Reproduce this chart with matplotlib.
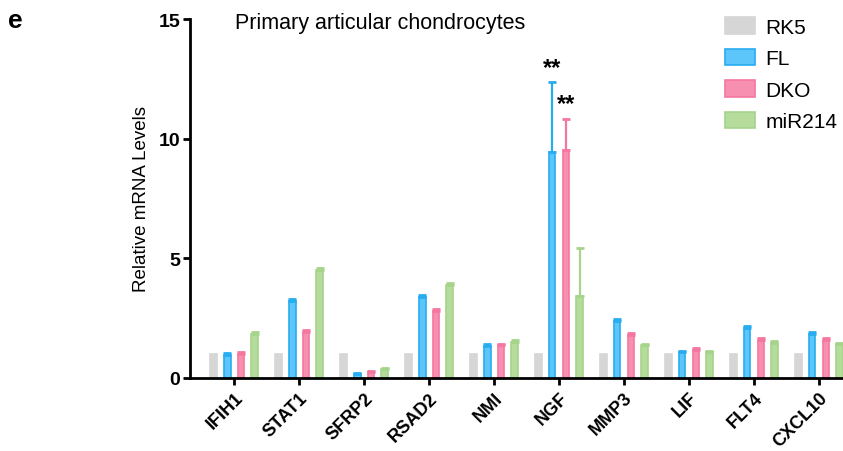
import numpy as np
import matplotlib.pyplot as plt
import matplotlib.transforms as mtransforms
from matplotlib.patches import Patch

plt.rcParams['font.family'] = ['Liberation Sans', 'DejaVu Sans']

genes = ['IFIH1', 'STAT1', 'SFRP2', 'RSAD2', 'NMI', 'NGF', 'MMP3', 'LIF', 'FLT4', 'CXCL10']
groups = ['RK5', 'FL', 'DKO', 'miR214']

rk5 = [1, 1, 1, 1, 1, 1, 1, 1, 1, 1]
fl = [0.97, 3.2, 0.15, 3.4, 1.35, 9.43, 2.38, 1.07, 2.08, 1.84]
fl_err = [0.08, 0.1, 0.05, 0.08, 0.06, 2.93, 0.07, 0.06, 0.08, 0.08]
dko = [1.0, 1.92, 0.25, 2.8, 1.38, 9.54, 1.8, 1.18, 1.6, 1.6]
dko_err = [0.08, 0.08, 0.06, 0.08, 0.06, 1.28, 0.07, 0.06, 0.07, 0.07]
mir214 = [1.85, 4.5, 0.38, 3.88, 1.52, 3.44, 1.38, 1.08, 1.47, 1.4]
mir214_err = [0.08, 0.1, 0.05, 0.08, 0.07, 1.98, 0.06, 0.06, 0.07, 0.06]

fills = ['#d6d6d6', '#5cc6fa', '#f78fb0', '#b6dc9c']
edges = ['#d6d6d6', '#27adf0', '#f5779f', '#a6d48a']

fig = plt.figure(figsize=(8.43, 4.52), dpi=100)
ax = fig.add_axes([190 / 843, 1 - 379 / 452, (843 - 190) / 843, (379 - 20) / 452])

x = np.arange(len(genes))
offsets = [-1.5, -0.5, 0.5, 1.5]
step = 0.21
width = 0.1
series = [(rk5, None), (fl, fl_err), (dko, dko_err), (mir214, mir214_err)]
for i, (vals, err) in enumerate(series):
    pos = x + offsets[i] * step
    ax.bar(pos, vals, width=width, color=fills[i], edgecolor=edges[i], linewidth=1.2, zorder=2)
    if err is not None:
        ax.errorbar(pos, vals, yerr=[np.zeros(len(vals)), err], fmt='none',
                    ecolor=edges[i], elinewidth=1.6, capsize=3, capthick=2, zorder=3)

# significance markers on NGF
ngf = genes.index('NGF')
ax.text(ngf + offsets[1] * step, fl[ngf] + fl_err[ngf] + 0.15, '**', ha='center', va='bottom',
        fontsize=17, fontweight='bold')
ax.text(ngf + offsets[2] * step, dko[ngf] + dko_err[ngf] + 0.15, '**', ha='center', va='bottom',
        fontsize=17, fontweight='bold')

ax.set_xlim(-0.68, 9.37)
ax.set_ylim(0, 15)
ax.set_yticks([0, 5, 10, 15])
ax.set_xticks(x)
ax.set_xticklabels(genes, rotation=45, ha='right', rotation_mode='anchor', fontsize=13, fontweight='bold')
shift = mtransforms.ScaledTranslation(4 / 100, 0, fig.dpi_scale_trans)
for lbl in ax.get_xticklabels():
    lbl.set_transform(lbl.get_transform() + shift)
for lbl in ax.get_yticklabels():
    lbl.set_fontweight('bold')
    lbl.set_fontsize(14)
ax.tick_params(axis='both', width=2, length=5, direction='out')
ax.tick_params(axis='x', pad=3)
ax.tick_params(axis='y', pad=2)
for s in ['top', 'right']:
    ax.spines[s].set_visible(False)
for s in ['left', 'bottom']:
    ax.spines[s].set_linewidth(2)
ax.set_ylabel('Relative mRNA Levels', fontsize=13.5)
ax.yaxis.set_label_coords(-0.061, 0.5)
ax.text(0.069, 0.99, 'Primary articular chondrocytes', transform=ax.transAxes, fontsize=15.5, va='center')

fig.text(8 / 843, 1 - 21 / 452, 'e', fontsize=19, fontweight='bold', va='center')

handles = [Patch(facecolor=fills[i], edgecolor=edges[i], linewidth=1.2) for i in range(4)]
fig.legend(handles, groups, loc='upper left', bbox_to_anchor=(725 / 843, 1 - 18 / 452), frameon=False,
           fontsize=15, handlelength=1.45, handleheight=0.85, labelspacing=0.58, handletextpad=0.5,
           borderaxespad=0, borderpad=0)

fig.savefig('out.png', dpi=100)
